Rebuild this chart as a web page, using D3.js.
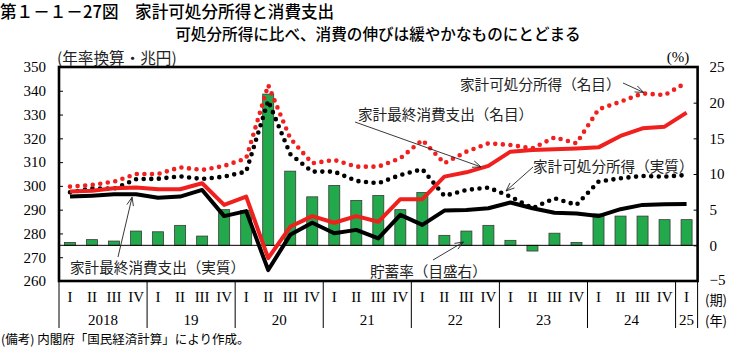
<!DOCTYPE html>
<html><head><meta charset="utf-8">
<script src="https://cdn.jsdelivr.net/npm/d3@7/dist/d3.min.js"></script>
<style>
html,body{margin:0;padding:0;background:#fff;}
svg{display:block;}
.jp{font-family:"Noto Sans CJK JP","Noto Sans",sans-serif;}
.num{font-family:"Liberation Serif","DejaVu Serif",serif;}
</style></head>
<body>
<svg id="c" width="731" height="350"></svg>
<script>
// ---------- data ----------
const quarters = ["I","II","III","IV","I","II","III","IV","I","II","III","IV","I","II","III","IV","I","II","III","IV","I","II","III","IV","I","II","III","IV","I"];
const years = ["2018","19","20","21","22","23","24","25"];
const yearQuarters = [4,4,4,4,4,4,4,1];
// 家計可処分所得（名目） 兆円
const dispNominal = [299.7,300.4,301.8,305.0,305.0,307.8,306.7,308.4,311.6,342.4,320.0,309.5,310.9,308.1,308.1,311.6,319.3,309.5,314.4,317.9,317.2,315.8,320.4,317.9,332.2,335.4,338.9,338.2,343.5];
// 家計最終消費支出（名目）
const consNominal = [297.6,298.0,299.0,299.3,298.6,298.6,301.1,292.0,295.5,269.6,282.8,287.3,284.5,287.3,284.9,294.4,294.4,303.9,305.7,308.4,314.4,315.1,315.4,315.7,316.2,321.0,324.2,324.9,330.8];
// 家計可処分所得（実質）
const dispReal = [297.3,299.0,298.8,302.8,303.0,304.0,302.9,303.9,306.0,335.8,313.4,306.0,306.0,302.1,301.1,304.6,307.0,295.8,298.3,299.3,295.5,290.6,294.8,292.0,301.8,303.2,304.2,303.9,304.6];
// 家計最終消費支出（実質）
const consReal = [295.5,295.9,296.5,296.5,295.0,295.5,298.3,287.3,289.4,264.6,279.4,284.5,280.1,281.5,277.9,287.8,283.6,289.6,289.9,290.6,293.0,290.6,288.7,288.4,287.3,290.2,292.0,292.3,292.4];
// 貯蓄率（%）
const savingRate = [0.4,0.8,0.6,2.0,1.9,2.8,1.3,5.0,4.9,21.2,10.4,6.8,8.4,6.3,7.0,5.0,7.4,1.4,2.0,2.8,0.7,-0.8,1.7,0.4,4.4,4.1,4.1,3.6,3.6];
const leftTicks = [260,270,280,290,300,310,320,330,340,350];
const rightTicks = [-5,0,5,10,15,20,25];

// ---------- layout ----------
const svg = d3.select("#c");
const L = 59, R = 697.6, T = 67, B = 281;
const idx = d3.range(quarters.length);
const x = d3.scaleBand().domain(idx).range([L, R]).paddingInner(0.5).paddingOuter(0.25);
const xc = i => x(i) + x.bandwidth()/2;
const yL = d3.scaleLinear().domain([260,350]).range([B, T]);
const yR = d3.scaleLinear().domain([-5,25]).range([B, T]);
const RED = "#f0201e", GREEN = "#22a94b";

// Titles
svg.append("text").attr("class","jp").attr("x",0).attr("y",11).attr("dominant-baseline","central")
  .attr("font-size",16.6).attr("font-weight",500).text("第１－１－27図　家計可処分所得と消費支出");
svg.append("text").attr("class","jp").attr("x",378).attr("y",33).attr("dominant-baseline","central")
  .attr("text-anchor","middle").attr("font-size",15.6).attr("font-weight",500)
  .text("可処分所得に比べ、消費の伸びは緩やかなものにとどまる");
svg.append("text").attr("class","jp").attr("x",57).attr("y",57).attr("dominant-baseline","central")
  .attr("font-size",15.6).attr("fill","#222").text("(年率換算・兆円)");
svg.append("text").attr("class","num").attr("x",678).attr("y",57).attr("dominant-baseline","central")
  .attr("text-anchor","middle").attr("font-size",15).text("(%)");

// bars
svg.append("g").selectAll("rect").data(savingRate).join("rect")
  .attr("x",(d,i)=>x(i)).attr("width",x.bandwidth())
  .attr("y",d=>yR(Math.max(0,d))).attr("height",d=>Math.abs(yR(d)-yR(0)))
  .attr("fill",GREEN).attr("stroke","#3a3a3a").attr("stroke-width",0.8);

// zero line
svg.append("line").attr("x1",L).attr("x2",R).attr("y1",yR(0)).attr("y2",yR(0))
  .attr("stroke","#000").attr("stroke-width",1);

const line = d3.line().x((d,i)=>xc(i)).y(d=>yL(d));
function drawLine(data, color, dotted){
  const p = svg.append("path").attr("d",line(data)).attr("fill","none").attr("stroke",color);
  if(dotted){ p.attr("stroke-width",4.6).attr("stroke-linecap","round").attr("stroke-dasharray","0 7.6"); }
  else { p.attr("stroke-width",4).attr("stroke-linejoin","round"); }
}
drawLine(dispReal,"#000",true);
drawLine(dispNominal,RED,true);
drawLine(consReal,"#000",false);
drawLine(consNominal,RED,false);

// axes
const gl = svg.append("g").attr("transform",`translate(${L},0)`)
  .call(d3.axisLeft(yL).tickValues(leftTicks).tickSizeInner(-4).tickSizeOuter(0).tickPadding(13));
const gr = svg.append("g").attr("transform",`translate(${R},0)`)
  .call(d3.axisRight(yR).tickValues(rightTicks).tickSizeInner(-4).tickSizeOuter(0).tickPadding(12));
[gl,gr].forEach(g=>{
  g.select(".domain").remove();
  g.selectAll("text").attr("class","num").attr("font-size",15).attr("fill","#000").attr("font-family","Liberation Serif");
  g.selectAll("line").attr("stroke","#000");
});
gr.selectAll(".tick").filter(d=>d===-5).select("text").attr("dy","0.2em");

// frame
svg.append("rect").attr("x",L).attr("y",T).attr("width",R-L).attr("height",B-T)
  .attr("fill","none").attr("stroke","#000").attr("stroke-width",2.6);

// x axis labels
svg.append("g").selectAll("text").data(quarters).join("text").attr("class","num")
  .attr("x",(d,i)=>xc(i)).attr("y",297).attr("text-anchor","middle").attr("dominant-baseline","central")
  .attr("font-size",15).text(d=>d);
let start = 0;
const sepX = [L];
years.forEach((yv,k)=>{
  const n = yearQuarters[k];
  const x0 = x(start) - x.step()*x.paddingInner()/2;
  const x1 = x(start+n-1) + x.bandwidth() + x.step()*x.paddingInner()/2;
  svg.append("text").attr("class","num").attr("x",(x0+x1)/2).attr("y",320)
    .attr("text-anchor","middle").attr("dominant-baseline","central").attr("font-size",15).text(yv);
  sepX.push(x1);
  start += n;
});
sepX[sepX.length-1] = R;
svg.append("g").selectAll("line").data(sepX).join("line")
  .attr("x1",d=>d).attr("x2",d=>d).attr("y1",B).attr("y2",328)
  .attr("stroke","#000").attr("stroke-width",1);
svg.append("text").attr("class","jp").attr("x",716).attr("y",299.5).attr("text-anchor","middle")
  .attr("dominant-baseline","central").attr("font-size",13.2).text("(期)");
svg.append("text").attr("class","jp").attr("x",716).attr("y",320).attr("text-anchor","middle")
  .attr("dominant-baseline","central").attr("font-size",13.2).text("(年)");

// footnote
svg.append("text").attr("class","jp").attr("x",1).attr("y",338).attr("dominant-baseline","central")
  .attr("font-size",12.5).text("(備考) 内閣府「国民経済計算」により作成。");

// annotations
function arrow(x1,y1,x2,y2){
  svg.append("line").attr("x1",x1).attr("y1",y1).attr("x2",x2).attr("y2",y2)
    .attr("stroke","#222").attr("stroke-width",0.9);
  const a = Math.atan2(y2-y1,x2-x1), h=9, w=0.38;
  const p = [[x2-h*Math.cos(a-w),y2-h*Math.sin(a-w)],[x2,y2],[x2-h*Math.cos(a+w),y2-h*Math.sin(a+w)]];
  svg.append("path").attr("d",d3.line()(p)).attr("fill","none").attr("stroke","#222").attr("stroke-width",0.9);
}
function label(t,x0,y0){
  svg.append("text").attr("class","jp").attr("x",x0).attr("y",y0).attr("dominant-baseline","central")
    .attr("font-size",14.6).attr("fill","#222").text(t);
}
label("家計最終消費支出（実質）",70,266);
arrow(118,257, xc(3)-4, yL(consReal[3])+3);
label("家計最終消費支出（名目）",358,113);
arrow(355,122, 481, yL(consNominal[19])+1);
label("家計可処分所得（名目）",460,83);
arrow(623,83, xc(26)+1, yL(dispNominal[26])-1);
label("家計可処分所得（実質）",533,165);
arrow(533,167, 506, 191);
label("貯蓄率（目盛右）",370,270);
arrow(433,260, xc(18)-3, 242);
</script>
</body></html>
